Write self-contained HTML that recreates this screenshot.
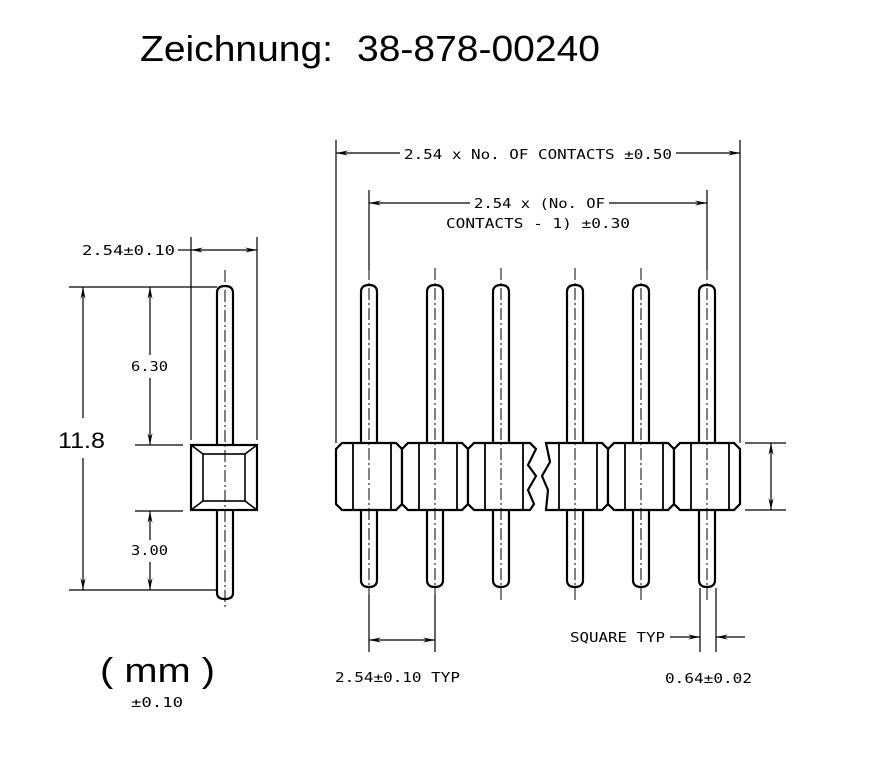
<!DOCTYPE html>
<html><head><meta charset="utf-8"><style>
html,body{margin:0;padding:0;background:#fff;width:881px;height:769px;overflow:hidden}
svg{display:block}
.t{font-family:"DejaVu Sans Mono","Liberation Mono",monospace;font-size:13px;fill:#000}
.a{font-family:"Liberation Sans",sans-serif;fill:#000}
</style></head><body>
<svg width="881" height="769" viewBox="0 0 881 769" xmlns="http://www.w3.org/2000/svg">
<defs>
<marker id="ar" viewBox="0 0 12 6" refX="12" refY="3" markerWidth="12" markerHeight="6" orient="auto-start-reverse" markerUnits="userSpaceOnUse"><path d="M0,0.5 L12,3 L0,5.5 L4,3 Z" fill="#000"/></marker>
</defs>
<text class="a" x="140" y="61" font-size="36" textLength="193" lengthAdjust="spacingAndGlyphs">Zeichnung:</text>
<text class="a" x="357" y="61" font-size="36" textLength="243" lengthAdjust="spacingAndGlyphs">38-878-00240</text>
<text class="a" x="100" y="682" font-size="34" textLength="115" lengthAdjust="spacingAndGlyphs">( mm )</text>
<text class="t" x="131" y="707" textLength="52" lengthAdjust="spacingAndGlyphs">±0.10</text>
<text class="a" x="58" y="448" font-size="22" textLength="47" lengthAdjust="spacingAndGlyphs">11.8</text>

<g stroke="#000" fill="none" stroke-width="1.2">
<line x1="69" y1="287" x2="217" y2="287"/>
<line x1="69" y1="590" x2="217" y2="590"/>
<line x1="135" y1="445" x2="183" y2="445"/>
<line x1="135" y1="511" x2="183" y2="511"/>
<line x1="83" y1="418" x2="83" y2="287" marker-end="url(#ar)"/>
<line x1="83" y1="458" x2="83" y2="590" marker-end="url(#ar)"/>
<line x1="150" y1="355" x2="150" y2="287" marker-end="url(#ar)"/>
<line x1="150" y1="378" x2="150" y2="445" marker-end="url(#ar)"/>
<line x1="150" y1="540" x2="150" y2="511" marker-end="url(#ar)"/>
<line x1="150" y1="562" x2="150" y2="590" marker-end="url(#ar)"/>
<line x1="191" y1="237" x2="191" y2="440"/>
<line x1="257" y1="237" x2="257" y2="440"/>
<line x1="178" y1="250" x2="191" y2="250"/>
<line x1="224" y1="250" x2="191" y2="250" marker-end="url(#ar)"/>
<line x1="224" y1="250" x2="257" y2="250" marker-end="url(#ar)"/>
</g>
<text class="t" x="82" y="255" textLength="93" lengthAdjust="spacingAndGlyphs">2.54±0.10</text>
<text class="t" x="131" y="371" textLength="37" lengthAdjust="spacingAndGlyphs">6.30</text>
<text class="t" x="131" y="555" textLength="37" lengthAdjust="spacingAndGlyphs">3.00</text>

<g stroke="#000" fill="#fff" stroke-width="2.2">
<path d="M217,593 L217,293 Q217,286 225,286 Q233,286 233,293 L233,593 Q233,599 225,599 Q217,599 217,593 Z"/>
<rect x="191" y="445" width="66" height="65"/>
<rect x="203" y="454" width="42" height="47" stroke-width="1.6"/>
<path d="M191,445 L203,454 M257,445 L245,454 M191,510 L203,501 M257,510 L245,501" stroke-width="1.6"/>
</g>
<line x1="225" y1="270" x2="225" y2="610" stroke="#000" stroke-width="1" stroke-dasharray="12,3,2,3"/>

<g stroke="#000" fill="none" stroke-width="1.2">
<line x1="336" y1="140" x2="336" y2="443"/>
<line x1="740" y1="140" x2="740" y2="443"/>
<line x1="400" y1="153" x2="336" y2="153" marker-end="url(#ar)"/>
<line x1="676" y1="153" x2="740" y2="153" marker-end="url(#ar)"/>
<line x1="369" y1="190" x2="369" y2="270"/>
<line x1="707" y1="190" x2="707" y2="270"/>
<line x1="470" y1="203" x2="369" y2="203" marker-end="url(#ar)"/>
<line x1="609" y1="203" x2="707" y2="203" marker-end="url(#ar)"/>
<line x1="745" y1="443" x2="786" y2="443"/>
<line x1="745" y1="510" x2="786" y2="510"/>
<line x1="771" y1="477" x2="771" y2="443" marker-end="url(#ar)"/>
<line x1="771" y1="477" x2="771" y2="510" marker-end="url(#ar)"/>
<line x1="369" y1="595" x2="369" y2="652"/>
<line x1="435" y1="595" x2="435" y2="652"/>
<line x1="402" y1="640" x2="369" y2="640" marker-end="url(#ar)"/>
<line x1="402" y1="640" x2="435" y2="640" marker-end="url(#ar)"/>
<line x1="700" y1="588" x2="700" y2="652"/>
<line x1="716" y1="588" x2="716" y2="652"/>
<line x1="670" y1="637" x2="700" y2="637" marker-end="url(#ar)"/>
<line x1="745" y1="637" x2="716" y2="637" marker-end="url(#ar)"/>
</g>
<text class="t" x="404" y="159" textLength="268" lengthAdjust="spacingAndGlyphs">2.54 x No. OF CONTACTS ±0.50</text>
<text class="t" x="474" y="208" textLength="131" lengthAdjust="spacingAndGlyphs">2.54 x (No. OF</text>
<text class="t" x="446" y="228" textLength="184" lengthAdjust="spacingAndGlyphs">CONTACTS - 1) ±0.30</text>
<text class="t" x="335" y="682" textLength="125" lengthAdjust="spacingAndGlyphs">2.54±0.10 TYP</text>
<text class="t" x="570" y="642" textLength="95" lengthAdjust="spacingAndGlyphs">SQUARE TYP</text>
<text class="t" x="665" y="683" textLength="87" lengthAdjust="spacingAndGlyphs">0.64±0.02</text>

<g stroke="#000" fill="#fff" stroke-width="2.2">
<path d="M361,580 L361,292 Q361,285 369,285 Q377,285 377,292 L377,580 Q377,587 369,587 Q361,587 361,580 Z"/>
<path d="M427,580 L427,292 Q427,285 435,285 Q443,285 443,292 L443,580 Q443,587 435,587 Q427,587 427,580 Z"/>
<path d="M493,580 L493,292 Q493,285 501,285 Q509,285 509,292 L509,580 Q509,587 501,587 Q493,587 493,580 Z"/>
<path d="M567,580 L567,292 Q567,285 575,285 Q583,285 583,292 L583,580 Q583,587 575,587 Q567,587 567,580 Z"/>
<path d="M633,580 L633,292 Q633,285 641,285 Q649,285 649,292 L649,580 Q649,587 641,587 Q633,587 633,580 Z"/>
<path d="M699,580 L699,292 Q699,285 707,285 Q715,285 715,292 L715,580 Q715,587 707,587 Q699,587 699,580 Z"/>
<path d="M336,449 L342,443 L396,443 L402,449 L402,504 L396,510 L342,510 L336,504 Z"/>
<path d="M402,449 L408,443 L462,443 L468,449 L468,504 L462,510 L408,510 L402,504 Z"/>
<path d="M468,449 L474,443 L530,443 L536,449 L528,465 L536,476 L528,490 L534,504 L530,510 L474,510 L468,504 Z"/>
<path d="M546,443 L602,443 L608,449 L608,504 L602,510 L546,510 L548,490 L542,476 L550,462 Z"/>
<path d="M608,449 L614,443 L668,443 L674,449 L674,504 L668,510 L614,510 L608,504 Z"/>
<path d="M674,449 L680,443 L734,443 L740,449 L740,504 L734,510 L680,510 L674,504 Z"/>
</g>
<g stroke="#000" stroke-width="1.8">
<line x1="353" y1="443" x2="353" y2="510"/><line x1="391" y1="443" x2="391" y2="510"/>
<line x1="419" y1="443" x2="419" y2="510"/><line x1="457" y1="443" x2="457" y2="510"/>
<line x1="485" y1="443" x2="485" y2="510"/><line x1="523" y1="443" x2="523" y2="510"/>
<line x1="559" y1="443" x2="559" y2="510"/><line x1="597" y1="443" x2="597" y2="510"/>
<line x1="625" y1="443" x2="625" y2="510"/><line x1="663" y1="443" x2="663" y2="510"/>
<line x1="691" y1="443" x2="691" y2="510"/><line x1="729" y1="443" x2="729" y2="510"/>
</g>
<g stroke="#000" stroke-width="1" stroke-dasharray="12,3,2,3">
<line x1="369" y1="268" x2="369" y2="600"/>
<line x1="435" y1="268" x2="435" y2="600"/>
<line x1="501" y1="268" x2="501" y2="600"/>
<line x1="575" y1="268" x2="575" y2="600"/>
<line x1="641" y1="268" x2="641" y2="600"/>
<line x1="707" y1="268" x2="707" y2="600"/>
</g>
</svg>
</body></html>
